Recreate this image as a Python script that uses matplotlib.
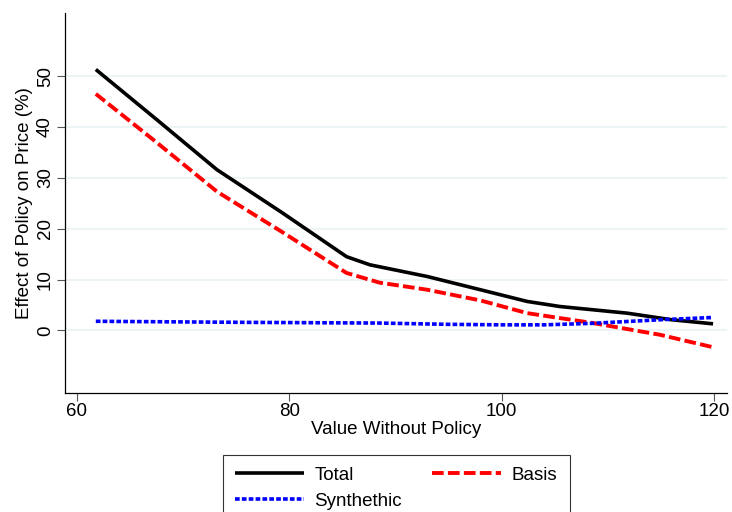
import matplotlib
matplotlib.use("Agg")
import matplotlib.pyplot as plt

plt.rcParams['font.family'] = ['Liberation Sans', 'DejaVu Sans']

x_total = [61.8, 67.5, 73.2, 79.3, 85.4, 87.6, 93.0, 98.0, 102.4, 105.5, 111.8, 116.0, 119.9]
total   = [51.3, 41.5, 31.6, 23.2, 14.5, 12.9, 10.6, 8.0, 5.7, 4.7, 3.4, 2.1, 1.3]

x_basis = [61.8, 67.5, 73.2, 79.3, 85.4, 88.5, 93.0, 98.0, 102.4, 108.6, 114.9, 119.9]
basis   = [46.5, 37.0, 27.3, 19.4, 11.3, 9.4, 8.0, 5.9, 3.4, 1.45, -0.85, -3.3]

x_synth = [61.8, 75.0, 88.5, 95.0, 100.0, 104.0, 108.6, 114.9, 119.9]
synth   = [1.8, 1.6, 1.45, 1.2, 1.1, 1.1, 1.4, 2.1, 2.55]

xticks = [60, 80, 100, 120]
yticks = [0, 10, 20, 30, 40, 50]

FS = 13.5

fig = plt.figure(figsize=(7.32, 5.12), dpi=100)
ax = fig.add_axes([0.0888, 0.2324, 0.9042, 0.7422])

for y in yticks:
    ax.axhline(y, color='#eaf2f3', lw=1.2, zorder=0)

l_total, = ax.plot(x_total, total, color='black', lw=2.6, solid_capstyle='butt', label='Total', zorder=3)
l_basis, = ax.plot(x_basis, basis, color='red', lw=2.8, dashes=(3.0, 1.1), label='Basis', zorder=3)
l_synth, = ax.plot(x_synth, synth, color='blue', lw=2.6, dashes=(1.3, 0.6), label='Synthethic', zorder=4)

ax.set_xlim(58.9, 121.2)
ax.set_ylim(-12.3, 62.4)
ax.set_xticks(xticks)
ax.set_yticks(yticks)
ax.set_yticklabels([str(v) for v in yticks], rotation=90, va='center')
ax.tick_params(axis='both', labelsize=FS, length=6, width=0.8, color='#555555')
ax.tick_params(axis='x', pad=1)
ax.tick_params(axis='y', pad=2)
for s in ['top', 'right']:
    ax.spines[s].set_visible(False)
for s in ['left', 'bottom']:
    ax.spines[s].set_linewidth(0.9)
ax.set_xlabel('Value Without Policy', fontsize=FS, labelpad=1)
ax.set_ylabel('Effect of Policy on Price (%)', fontsize=FS, labelpad=3)

leg = fig.legend(handles=[l_total, l_synth, l_basis], ncol=2, loc='upper center',
                 bbox_to_anchor=(0.541, 0.112), fontsize=FS, frameon=True,
                 fancybox=False, edgecolor='black', handlelength=3.7,
                 columnspacing=1.6, handletextpad=0.55, labelspacing=0.45,
                 borderpad=0.65, borderaxespad=0)
leg.get_frame().set_linewidth(0.8)

fig.savefig('out.png', dpi=100)
